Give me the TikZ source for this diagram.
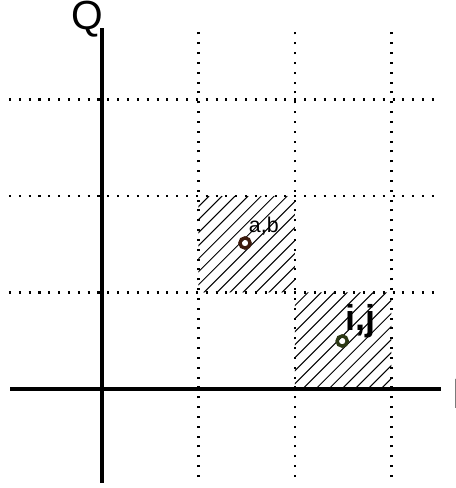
\documentclass[tikz,border=0pt]{standalone}
\usepackage{fontspec}
\setmainfont{Liberation Sans}
\usepackage{tikz}
\usetikzlibrary{positioning}
\definecolor{ringbrown}{RGB}{60,26,12}
\definecolor{ringgreen}{RGB}{44,56,20}

\begin{document}
\begin{tikzpicture}[
    axis/.style={line width=0.9pt},
    gridline/.style={line width=0.6pt, dash pattern=on 0.6pt off 2.3pt},
    hatch/.style={line width=0.3pt},
    ring/.style={circle, draw=#1, line width=1pt, inner sep=0pt, minimum size=3pt},
    lbl/.style={inner sep=0pt, anchor=base west},
]
    \useasboundingbox (-1.057,-1.026) rectangle (3.668,4.031);

    % dotted grid
    \foreach \k in {1,2,3} {
        \coordinate (gb\k) at (\k,-0.912);
        \coordinate (gt\k) at (\k,3.772);
        \coordinate (gl\k) at (-0.964,\k);
        \coordinate (gr\k) at (3.50,\k);
        \draw[gridline] (gb\k) -- (gt\k);
        \draw[gridline] (gl\k) -- (gr\k);
    }

    % hatched cells
    \begin{scope}
        \clip (1,1) rectangle (2,2) (2,0) rectangle (3,1);
        \foreach \k in {-24,...,24}
            \draw[hatch] (1+\k*0.135,0) -- ++(2,2);
    \end{scope}

    % axes
    \coordinate (xa) at (-0.953,0);
    \coordinate (xb) at (3.513,0);
    \coordinate (ya) at (0,-0.974);
    \coordinate (yb) at (0,3.741);
    \draw[axis] (xa) -- (xb);
    \draw[axis] (ya) -- (yb);
    \node[font=\fontsize{12}{14}\selectfont, inner sep=0pt, anchor=base] (qlab) at (-0.155,3.725) {Q};
    \node[font=\fontsize{12.5}{14}\selectfont, lbl] (plab) at (3.623,-0.207) {P};

    % points
    \node[ring=ringbrown] (ab) at (1.482,1.513) {};
    \node[lbl, font=\fontsize{6.3}{7}\selectfont] (ablab) at (1.516,1.62) {a,b};
    \node[ring=ringgreen] (ij) at (2.489,0.497) {};
    \node[lbl, font=\fontsize{10.6}{12}\selectfont\bfseries] (ijlab) at (2.518,0.601) {i,j};
\end{tikzpicture}
\end{document}
